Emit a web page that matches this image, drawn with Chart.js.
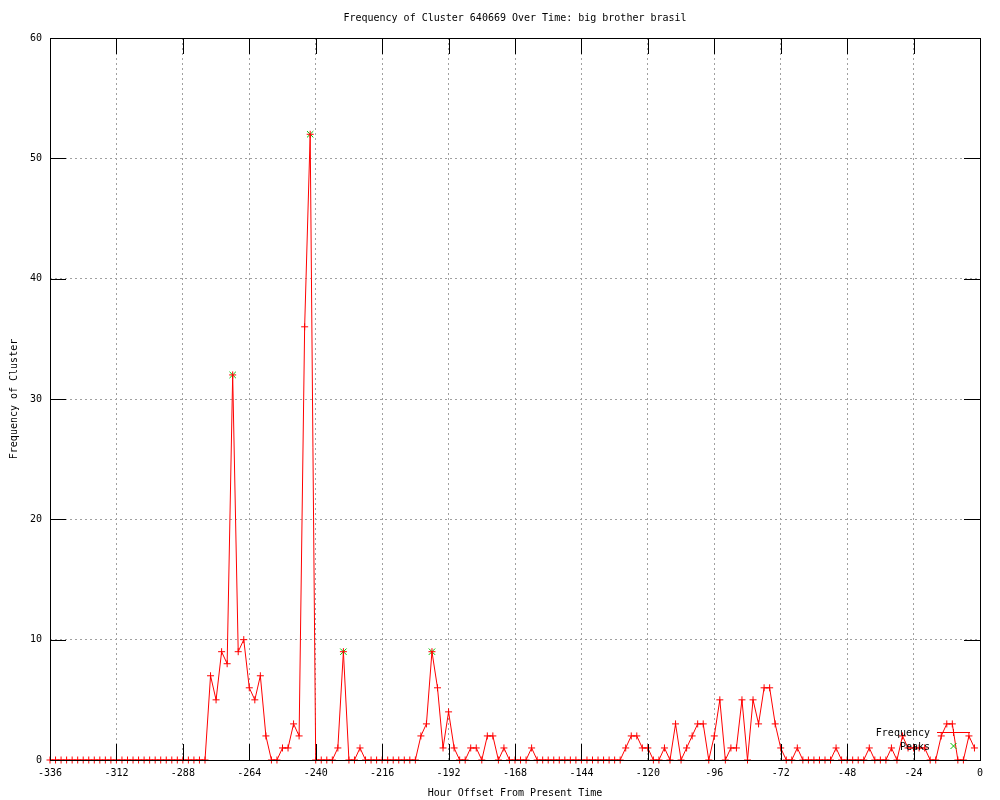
<!DOCTYPE html>
<html>
<head>
<meta charset="utf-8">
<script src="https://cdn.jsdelivr.net/npm/chart.js@4.4.1/dist/chart.umd.min.js"></script>
<style>
  html, body { margin: 0; padding: 0; background: #fff; }
  #wrap { width: 1000px; height: 800px; }
</style>
</head>
<body>
<div id="wrap"><canvas id="clusterChart" width="1000" height="800"></canvas></div>
<script>
// ========== DATA ==========
const hours = [
  -336, -334, -332, -330, -328, -326, -324, -322, -320, -318, -316, -314, -312, -310, -308, -306, -304, -302, -300, -298,
  -296, -294, -292, -290, -288, -286, -284, -282, -280, -278, -276, -274, -272, -270, -268, -266, -264, -262, -260, -258,
  -256, -254, -252, -250, -248, -246, -244, -242, -240, -238, -236, -234, -232, -230, -228, -226, -224, -222, -220, -218,
  -216, -214, -212, -210, -208, -206, -204, -202, -200, -198, -196, -194, -192, -190, -188, -186, -184, -182, -180, -178,
  -176, -174, -172, -170, -168, -166, -164, -162, -160, -158, -156, -154, -152, -150, -148, -146, -144, -142, -140, -138,
  -136, -134, -132, -130, -128, -126, -124, -122, -120, -118, -116, -114, -112, -110, -108, -106, -104, -102, -100, -98,
  -96, -94, -92, -90, -88, -86, -84, -82, -80, -78, -76, -74, -72, -70, -68, -66, -64, -62, -60, -58,
  -56, -54, -52, -50, -48, -46, -44, -42, -40, -38, -36, -34, -32, -30, -28, -26, -24, -22, -20, -18,
  -16, -14, -12, -10, -8, -6, -4, -2
];

const frequency = [
  0, 0, 0, 0, 0, 0, 0, 0, 0, 0, 0, 0, 0, 0, 0, 0, 0, 0, 0, 0,
  0, 0, 0, 0, 0, 0, 0, 0, 0, 7, 5, 9, 8, 32, 9, 10, 6, 5, 7, 2,
  0, 0, 1, 1, 3, 2, 36, 52, 0, 0, 0, 0, 1, 9, 0, 0, 1, 0, 0, 0,
  0, 0, 0, 0, 0, 0, 0, 2, 3, 9, 6, 1, 4, 1, 0, 0, 1, 1, 0, 2,
  2, 0, 1, 0, 0, 0, 0, 1, 0, 0, 0, 0, 0, 0, 0, 0, 0, 0, 0, 0,
  0, 0, 0, 0, 1, 2, 2, 1, 1, 0, 0, 1, 0, 3, 0, 1, 2, 3, 3, 0,
  2, 5, 0, 1, 1, 5, 0, 5, 3, 6, 6, 3, 1, 0, 0, 1, 0, 0, 0, 0,
  0, 0, 1, 0, 0, 0, 0, 0, 1, 0, 0, 0, 1, 0, 2, 1, 1, 1, 1, 0,
  0, 2, 3, 3, 0, 0, 2, 1
];

const peakHours = [-270, -242, -230, -198];
const peakValues = [32, 52, 9, 9];

const xTickStep = 24;
const yTickStep = 10;

const FONT = '"DejaVu Sans Mono", "Liberation Mono", monospace';


// ========== PLUGINS ==========

// gnuplot style frame with inward ticks on all four sides
const framePlugin = {
    id: 'frame',
    afterDatasetsDraw(chart) {
        const { ctx, chartArea: a, scales } = chart;
        const tic = 16;
        ctx.save();
        ctx.strokeStyle = '#000';
        ctx.lineWidth = 1;
        ctx.beginPath();
        scales.x.ticks.forEach(t => {
            const px = Math.round(scales.x.getPixelForValue(t.value)) + 0.5;
            ctx.moveTo(px, a.bottom);
            ctx.lineTo(px, a.bottom - tic);
            ctx.moveTo(px, a.top);
            ctx.lineTo(px, a.top + tic);
        });
        scales.y.ticks.forEach(t => {
            const py = Math.round(scales.y.getPixelForValue(t.value)) + 0.5;
            ctx.moveTo(a.left, py);
            ctx.lineTo(a.left + tic, py);
            ctx.moveTo(a.right, py);
            ctx.lineTo(a.right - tic, py);
        });
        ctx.stroke();
        ctx.strokeRect(Math.round(a.left) + 0.5, Math.round(a.top) + 0.5,
            Math.round(a.right - a.left), Math.round(a.bottom - a.top));
        ctx.restore();
    }
};

// key in the lower right corner, inside the plot
const keyPlugin = {
    id: 'key',
    afterDraw(chart) {
        const { ctx, chartArea: a } = chart;
        const textRight = a.right - 50;
        const sampleLeft = a.right - 43;
        const sampleRight = a.right - 10;
        const mid = (sampleLeft + sampleRight) / 2;
        const row1 = a.bottom - 28;
        const row2 = a.bottom - 14;
        ctx.save();
        ctx.font = '10px ' + FONT;
        ctx.fillStyle = '#000';
        ctx.textAlign = 'right';
        ctx.textBaseline = 'middle';
        ctx.fillText('Frequency', textRight, row1 + 1);
        ctx.fillText('Peaks', textRight, row2 + 1);

        ctx.lineWidth = 1;
        ctx.strokeStyle = '#ff0000';
        ctx.beginPath();
        ctx.moveTo(sampleLeft, row1 + 0.5);
        ctx.lineTo(sampleRight, row1 + 0.5);
        ctx.moveTo(mid, row1 - 3);
        ctx.lineTo(mid, row1 + 4);
        ctx.stroke();

        ctx.strokeStyle = '#00c000';
        ctx.beginPath();
        ctx.moveTo(mid - 3, row2 - 3);
        ctx.lineTo(mid + 3, row2 + 3);
        ctx.moveTo(mid + 3, row2 - 3);
        ctx.lineTo(mid - 3, row2 + 3);
        ctx.stroke();
        ctx.restore();
    }
};


// ========== CHART ==========
function createClusterChart() {
    const ctx = document.getElementById('clusterChart');
    if (!ctx) return;

    window.clusterChart = new Chart(ctx, {
        type: 'line',
        data: {
            datasets: [
                {
                    label: 'Frequency',
                    data: hours.map((h, i) => ({ x: h, y: frequency[i] })),
                    borderColor: '#ff0000',
                    backgroundColor: '#ff0000',
                    borderWidth: 1,
                    pointStyle: 'cross',
                    pointRadius: 3.5,
                    pointBorderWidth: 1,
                    tension: 0,
                    clip: false
                },
                {
                    label: 'Peaks',
                    data: peakHours.map((h, i) => ({ x: h, y: peakValues[i] })),
                    showLine: false,
                    borderColor: '#00c000',
                    backgroundColor: '#00c000',
                    pointStyle: 'crossRot',
                    pointRadius: 4.5,
                    pointBorderWidth: 1,
                    clip: false
                }
            ]
        },
        options: {
            responsive: false,
            animation: false,
            devicePixelRatio: 1,
            layout: { padding: { left: 0, right: 20, top: 0, bottom: 0 } },
            plugins: {
                legend: { display: false },
                tooltip: { enabled: false },
                title: {
                    display: true,
                    fullSize: false,
                    text: 'Frequency of Cluster 640669 Over Time: big brother brasil',
                    color: '#000',
                    font: { family: FONT, size: 10, weight: 'normal' },
                    padding: { top: 12, bottom: 14 }
                }
            },
            scales: {
                x: {
                    type: 'linear',
                    min: -336,
                    max: 0,
                    ticks: {
                        stepSize: xTickStep,
                        color: '#000',
                        padding: 7,
                        maxRotation: 0,
                        autoSkip: false,
                        font: { family: FONT, size: 10 }
                    },
                    grid: { color: '#a0a0a0', lineWidth: 1, drawTicks: false },
                    border: { display: false, dash: [2, 3] },
                    title: {
                        display: true,
                        text: 'Hour Offset From Present Time',
                        color: '#000',
                        font: { family: FONT, size: 10 },
                        padding: { top: 0, bottom: 1 }
                    },
                    afterFit(scale) { scale.height = 40; }
                },
                y: {
                    min: 0,
                    max: 60,
                    ticks: {
                        stepSize: yTickStep,
                        color: '#000',
                        padding: 8,
                        font: { family: FONT, size: 10 }
                    },
                    grid: { color: '#a0a0a0', lineWidth: 1, drawTicks: false },
                    border: { display: false, dash: [2, 3] },
                    title: {
                        display: true,
                        text: 'Frequency of Cluster',
                        color: '#000',
                        font: { family: FONT, size: 10 },
                        padding: { top: 8, bottom: 0 }
                    },
                    afterFit(scale) { scale.width = 50; }
                }
            }
        },
        plugins: [framePlugin, keyPlugin]
    });
}

createClusterChart();
</script>
</body>
</html>
